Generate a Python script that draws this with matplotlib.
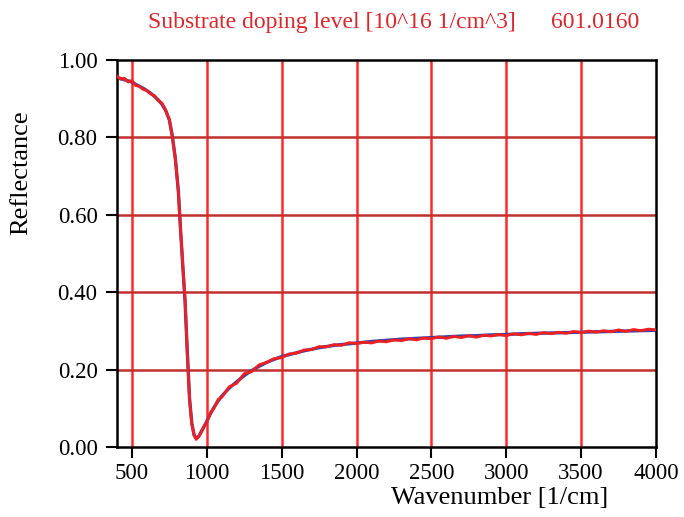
"""
reflectance spectrum with substrate doping fit
"""
import matplotlib.pyplot as plt

plt.rcParams['font.family'] = ['Liberation Serif', 'DejaVu Serif']

# fitted model (blue)
fit_wn = [400, 425, 450, 475, 500, 525, 550, 575, 600, 625, 650, 675, 700, 725,
          750, 770, 790, 810, 825, 840, 855, 870, 885, 900, 915, 930, 945, 960,
          980, 1000, 1025, 1050, 1075, 1100, 1150, 1200, 1250, 1300, 1350, 1400,
          1450, 1500, 1550, 1600, 1650, 1700, 1750, 1800, 1850, 1900, 1950, 2000,
          2100, 2200, 2300, 2400, 2500, 2600, 2700, 2800, 2900, 3000, 3100, 3200,
          3300, 3400, 3500, 3600, 3700, 3800, 3900, 4000]
fit = [0.955, 0.952, 0.949, 0.946, 0.943, 0.937, 0.932, 0.927, 0.921, 0.914,
       0.906, 0.897, 0.886, 0.870, 0.845, 0.803, 0.745, 0.662, 0.560, 0.465,
       0.375, 0.245, 0.125, 0.062, 0.032, 0.023, 0.027, 0.038, 0.052, 0.067,
       0.087, 0.104, 0.119, 0.132, 0.153, 0.169, 0.185, 0.198, 0.209, 0.219,
       0.227, 0.234, 0.239, 0.244, 0.249, 0.253, 0.257, 0.260, 0.263, 0.265,
       0.267, 0.269, 0.273, 0.276, 0.279, 0.281, 0.283, 0.285, 0.287, 0.288,
       0.290, 0.291, 0.293, 0.294, 0.295, 0.296, 0.297, 0.298, 0.299, 0.300,
       0.301, 0.302]

# measured spectrum (red)
meas_wn = [400, 425, 450, 475, 500, 525, 550, 575, 600, 625, 650, 675, 700, 725,
           750, 770, 790, 810, 825, 840, 855, 870, 885, 900, 915, 930, 945, 960,
           980, 1000, 1025, 1050, 1075, 1100, 1150, 1200, 1250, 1300, 1350, 1400,
           1450, 1500, 1550, 1600, 1650, 1700, 1750, 1800, 1850, 1900, 1950,
           2000, 2050, 2100, 2150, 2200, 2250, 2300, 2350, 2400, 2450, 2500,
           2550, 2600, 2650, 2700, 2750, 2800, 2850, 2900, 2950, 3000, 3050,
           3100, 3150, 3200, 3250, 3300, 3350, 3400, 3450, 3500, 3550, 3600,
           3650, 3700, 3750, 3800, 3850, 3900, 3950, 4000]
measured = [0.958, 0.950, 0.953, 0.943, 0.947, 0.934, 0.932, 0.924, 0.921, 0.912,
            0.908, 0.895, 0.889, 0.870, 0.846, 0.800, 0.745, 0.660, 0.560, 0.470,
            0.380, 0.240, 0.120, 0.060, 0.030, 0.020, 0.028, 0.036, 0.053, 0.064,
            0.090, 0.102, 0.123, 0.129, 0.156, 0.165, 0.190, 0.195, 0.213, 0.219,
            0.229, 0.231, 0.241, 0.243, 0.251, 0.252, 0.260, 0.259, 0.265, 0.263,
            0.270,
            0.268, 0.271, 0.269, 0.274, 0.272, 0.277, 0.275, 0.280, 0.277, 0.282,
            0.280, 0.285, 0.281, 0.286, 0.283, 0.288, 0.284, 0.289, 0.287, 0.291,
            0.288, 0.293, 0.290, 0.294, 0.291, 0.296, 0.293, 0.297, 0.294, 0.299,
            0.296, 0.300, 0.297, 0.301, 0.298, 0.303, 0.299, 0.304, 0.301, 0.305,
            0.303]

xticks = [500, 1000, 1500, 2000, 2500, 3000, 3500, 4000]
yticks = [0.0, 0.2, 0.4, 0.6, 0.8, 1.0]

fig = plt.figure(figsize=(6.84, 5.17), dpi=100)
ax = fig.add_axes([0.171, 0.135, 0.788, 0.749])

# grid
for x in xticks[:-1]:
    ax.axvline(x, color='#ff2a2a', lw=1.8, zorder=1)
for y in yticks[1:-1]:
    ax.axhline(y, color='#c0302c', lw=1.8, zorder=1)

ax.plot(fit_wn, fit, color='#3a3fa8', lw=2.4, zorder=2)
ax.plot(meas_wn, measured, color='#f02020', lw=2.0, zorder=3)

ax.set_xlim(400, 4000)
ax.set_ylim(0, 1)
ax.set_xticks(xticks)
ax.set_yticks(yticks)
ax.set_yticklabels([f'{v:.2f}' for v in yticks])
ax.tick_params(direction='out', length=8, width=1.5, labelsize=16.5, colors='black')
ax.tick_params(axis='y', pad=6)
for s in ax.spines.values():
    s.set_linewidth(1.8)
    s.set_color('black')

ax.set_xlabel('Wavenumber [1/cm]', fontsize=19, ha='right')
ax.xaxis.set_label_coords(0.911, -0.102)
ax.set_ylabel('Reflectance', fontsize=19)
ax.yaxis.set_label_coords(-0.158, 0.708)

fig.text(0.575, 0.957, 'Substrate doping level [10^16 1/cm^3]      601.0160',
         color='#d8262b', fontsize=17, ha='center', va='center')

plt.savefig('out.png')
